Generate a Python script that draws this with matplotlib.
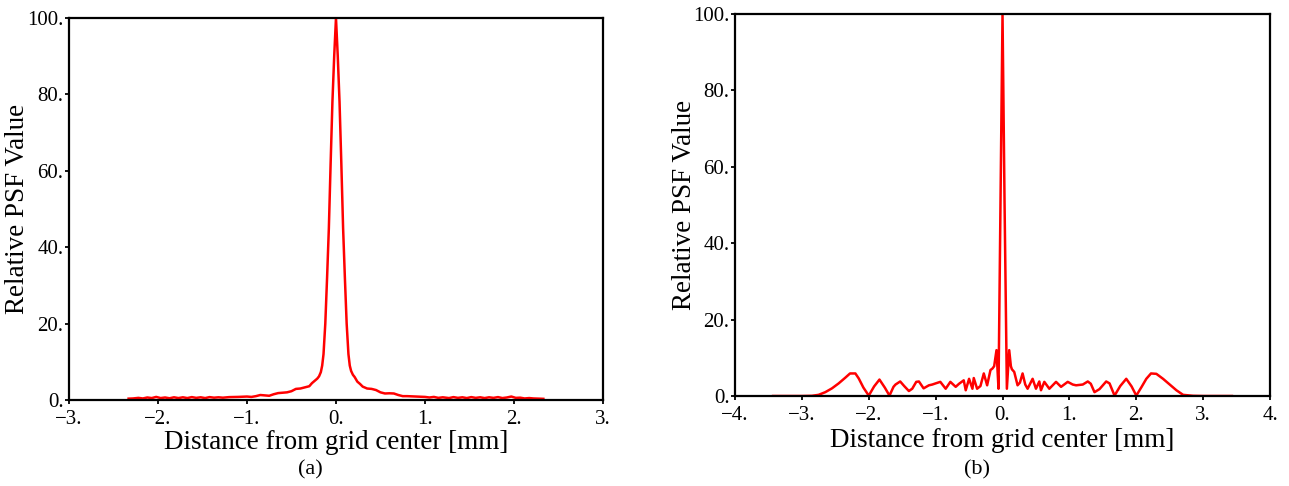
import matplotlib.pyplot as plt

plt.rcParams["font.family"] = ["Liberation Serif", "DejaVu Serif"]

# --- panel (a): measured PSF profile ---
xa = [-2.33, -2.28, -2.22, -2.17, -2.12, -2.07, -2.02, -1.97, -1.92, -1.87,
      -1.82, -1.77, -1.72, -1.67, -1.62, -1.57, -1.52, -1.47, -1.42, -1.37,
      -1.32, -1.27, -1.2, -1.1, -1.0, -0.95, -0.9, -0.85, -0.8, -0.75,
      -0.7, -0.65, -0.6, -0.55, -0.5, -0.45, -0.4, -0.35, -0.3, -0.27,
      -0.24, -0.21, -0.19, -0.17, -0.155, -0.14, -0.12, -0.1, -0.08, -0.06,
      -0.04, -0.02, 0.0, 0.02, 0.04, 0.06, 0.08, 0.1, 0.12, 0.14,
      0.155, 0.17, 0.19, 0.21, 0.24, 0.27, 0.3, 0.35, 0.4, 0.45,
      0.5, 0.55, 0.6, 0.65, 0.7, 0.75, 0.8, 0.9, 1.0, 1.05,
      1.1, 1.15, 1.2, 1.27, 1.32, 1.37, 1.42, 1.47, 1.52, 1.57,
      1.62, 1.67, 1.72, 1.77, 1.82, 1.87, 1.92, 1.97, 2.02, 2.07,
      2.12, 2.17, 2.22, 2.28, 2.33]
ya = [0.35, 0.4, 0.55, 0.4, 0.65, 0.5, 0.8, 0.5, 0.65, 0.45,
      0.7, 0.5, 0.7, 0.5, 0.75, 0.55, 0.7, 0.5, 0.75, 0.6,
      0.7, 0.6, 0.75, 0.8, 0.9, 0.8, 1.0, 1.3, 1.2, 1.1,
      1.5, 1.8, 1.9, 2.0, 2.3, 2.9, 3.0, 3.3, 3.6, 4.4,
      5.0, 5.6, 6.2, 7.3, 9.0, 12, 20, 32, 45, 62,
      78, 90, 100, 90, 78, 62, 45, 32, 20, 12,
      9.0, 7.6, 6.6, 6.0, 4.8, 4.2, 3.5, 3.0, 2.9, 2.6,
      2.0, 1.7, 1.75, 1.7, 1.3, 1.0, 1.0, 0.9, 0.8, 0.65,
      0.8, 0.55, 0.7, 0.5, 0.75, 0.55, 0.7, 0.5, 0.75, 0.55,
      0.7, 0.5, 0.7, 0.55, 0.75, 0.5, 0.65, 0.9, 0.55, 0.6,
      0.4, 0.5, 0.4, 0.35, 0.3]

# --- panel (b): simulated PSF profile ---
xb = [-3.43, -3.0, -2.85, -2.75, -2.65, -2.55, -2.45, -2.35, -2.28, -2.2,
      -2.15, -2.08, -2.0, -1.92, -1.84, -1.76, -1.69, -1.63, -1.6, -1.53,
      -1.47, -1.4, -1.35, -1.29, -1.25, -1.18, -1.1, -1.05, -1.0, -0.93,
      -0.85, -0.78, -0.7, -0.65, -0.58, -0.55, -0.5, -0.45, -0.43, -0.38,
      -0.33, -0.28, -0.23, -0.18, -0.15, -0.125, -0.09, -0.06, -0.03, 0.0,
      0.03, 0.065, 0.1, 0.125, 0.14, 0.175, 0.225, 0.26, 0.3, 0.34,
      0.375, 0.45, 0.5, 0.55, 0.575, 0.625, 0.7, 0.8, 0.875, 0.975,
      1.05, 1.1, 1.2, 1.275, 1.32, 1.375, 1.45, 1.55, 1.6, 1.675,
      1.76, 1.85, 1.93, 2.0, 2.08, 2.15, 2.22, 2.3, 2.4, 2.5,
      2.6, 2.7, 2.85, 3.0, 3.43]
yb = [0.0, 0.0, 0.05, 0.3, 1.0, 2.0, 3.3, 4.8, 5.9, 5.9,
      4.6, 2.2, 0.1, 2.5, 4.3, 2.2, 0.1, 2.4, 3.0, 3.8,
      2.6, 1.3, 1.9, 3.7, 3.8, 2.0, 2.8, 3.0, 3.3, 3.7,
      1.9, 3.7, 2.4, 3.2, 4.1, 1.5, 4.5, 1.9, 4.7, 1.9,
      2.6, 5.9, 2.8, 6.8, 7.2, 7.8, 12.0, 1.9, 51, 100,
      51, 1.9, 12.0, 7.8, 7.0, 6.3, 2.8, 3.5, 5.9, 3.0,
      1.9, 4.5, 1.9, 3.8, 1.5, 3.7, 1.9, 3.7, 2.4, 3.7,
      3.0, 2.8, 3.0, 3.8, 3.2, 1.0, 1.8, 3.8, 3.3, 0.1,
      2.6, 4.5, 2.5, 0.1, 2.4, 4.5, 5.9, 5.8, 4.5, 3.0,
      1.5, 0.3, 0.05, 0.0, 0.0]

yticks = [0, 20, 40, 60, 80, 100]
ytick_labels = ["0.", "20.", "40.", "60.", "80.", "100."]
xticks_a = [-3, -2, -1, 0, 1, 2, 3]
xtick_labels_a = ["\u22123.", "\u22122.", "\u22121.", "0.", "1.", "2.", "3."]
xticks_b = [-4, -3, -2, -1, 0, 1, 2, 3, 4]
xtick_labels_b = ["\u22124.", "\u22123.", "\u22122.", "\u22121.", "0.", "1.", "2.", "3.", "4."]

W, H = 1289, 486
fig = plt.figure(figsize=(W / 100, H / 100), dpi=100)
ax_a = fig.add_axes([0.0535, 0.177, 0.4143, 0.786])
ax_b = fig.add_axes([0.5702, 0.1852, 0.4151, 0.786])

panels = [
    (ax_a, xa, ya, (-3, 3), xticks_a, xtick_labels_a, "(a)", 310, -0.073, -0.078),
    (ax_b, xb, yb, (-4, 4), xticks_b, xtick_labels_b, "(b)", 977, -0.071, -0.085),
]

for ax, x, y, xlim, xt, xtl, tag, tag_x, ylab_x, xlab_y in panels:
    ax.plot(x, y, color="#ff0000", linewidth=1.8)
    ax.set_xlim(*xlim)
    ax.set_ylim(0, 100)
    ax.set_xticks(xt)
    ax.set_xticklabels(xtl)
    ax.set_yticks(yticks)
    ax.set_yticklabels(ytick_labels)
    ax.tick_params(direction="out", length=3, width=1.3, labelsize=15)
    ax.tick_params(axis="x", pad=4)
    ax.tick_params(axis="y", pad=1)
    for sp in ax.spines.values():
        sp.set_linewidth(1.6)
    ax.set_xlabel("Distance from grid center [mm]", fontsize=19.5)
    ax.set_ylabel("Relative PSF Value", fontsize=19.5)
    ax.xaxis.set_label_coords(0.5, xlab_y)
    ax.yaxis.set_label_coords(ylab_x, 0.5)
    # panel tag under the axis label
    fig.text(tag_x / W, 1 - 470 / H, tag, fontsize=16, ha="center", va="center")

fig.savefig("out.png", dpi=100)
